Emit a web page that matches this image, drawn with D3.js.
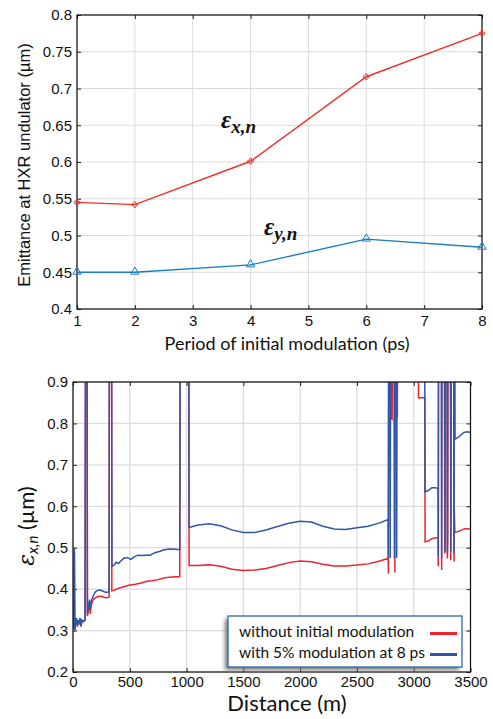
<!DOCTYPE html>
<html>
<head>
<meta charset="utf-8">
<script src="https://cdn.jsdelivr.net/npm/d3@7"></script>
<style>
    body { margin: 0; background: #fff; }
    svg { display: block; }
    .tick text { font-family: "Liberation Sans", Arial, sans-serif; font-size: 15px; fill: #111; }
    .tick line { stroke: #222; }
</style>
</head>
<body>
<div id="chart"></div>
<script>
(function () {
    'use strict';

    // ---- top panel data: emittance vs period of initial modulation
    var periods = [1, 2, 4, 6, 8];
    var emitX = [0.545, 0.542, 0.601, 0.716, 0.775];
    var emitY = [0.450, 0.450, 0.460, 0.495, 0.484];
    var periodTicks = [1, 2, 3, 4, 5, 6, 7, 8];
    var emitTicks = [0.4, 0.45, 0.5, 0.55, 0.6, 0.65, 0.7, 0.75, 0.8];

    // ---- bottom panel data: [distance (m), emittance (um)], 1.0 = off scale
    var noModPts = [
        [0, 0.315], [6, 0.305], [12, 0.49], [16, 0.30], [22, 0.32], [30, 0.33], [38, 0.31], [46, 0.325],
        [54, 0.315], [62, 0.33], [70, 0.31], [80, 0.325], [92, 0.322], [106, 0.325], [110, 1.0], [124, 1.0],
        [127, 0.335], [138, 0.355], [146, 0.36], [152, 0.34], [160, 0.36], [172, 0.372], [190, 0.378],
        [220, 0.382], [250, 0.383], [280, 0.38], [300, 0.379], [318, 0.381], [320, 1.0], [340, 1.0],
        [342, 0.396], [360, 0.397], [400, 0.402], [450, 0.406], [500, 0.41], [550, 0.412], [600, 0.415],
        [650, 0.419], [700, 0.42], [750, 0.423], [800, 0.427], [850, 0.429], [900, 0.43], [940, 0.43],
        [944, 1.0], [1020, 1.0], [1022, 0.457], [1100, 0.457], [1200, 0.459], [1300, 0.455], [1400, 0.448],
        [1500, 0.445], [1600, 0.446], [1700, 0.45], [1800, 0.457], [1900, 0.464], [2000, 0.468],
        [2100, 0.466], [2200, 0.46], [2300, 0.456], [2400, 0.456], [2500, 0.458], [2600, 0.461],
        [2700, 0.468], [2775, 0.474], [2777, 0.437], [2779, 1.0], [2797, 1.0], [2799, 0.812], [2810, 0.81],
        [2812, 1.0], [2832, 1.0], [2834, 0.44], [2838, 1.0], [2854, 1.0], [2856, 0.815], [2858, 1.0],
        [3040, 1.0], [3042, 0.862], [3098, 0.862], [3100, 0.514], [3130, 0.516], [3160, 0.522],
        [3190, 0.524], [3214, 0.524], [3216, 0.455], [3218, 1.0], [3244, 1.0], [3246, 0.446], [3248, 1.0],
        [3270, 1.0], [3273, 0.486], [3276, 0.5], [3278, 1.0], [3294, 1.0], [3296, 0.474], [3300, 0.52],
        [3302, 1.0], [3324, 1.0], [3326, 0.47], [3330, 1.0], [3352, 1.0], [3355, 0.466], [3358, 0.59],
        [3362, 0.537], [3400, 0.54], [3450, 0.546], [3500, 0.545]
    ];
    var modPts = [
        [0, 0.315], [6, 0.305], [12, 0.50], [16, 0.30], [22, 0.32], [30, 0.33], [38, 0.31], [46, 0.325],
        [54, 0.315], [62, 0.33], [70, 0.31], [80, 0.325], [92, 0.322], [106, 0.325], [110, 1.0], [124, 1.0],
        [127, 0.34], [138, 0.36], [146, 0.375], [152, 0.35], [158, 0.365], [166, 0.375], [178, 0.383],
        [195, 0.393], [215, 0.397], [240, 0.398], [265, 0.395], [290, 0.392], [310, 0.393], [318, 0.396],
        [320, 1.0], [340, 1.0], [343, 0.455], [360, 0.458], [380, 0.465], [400, 0.462], [420, 0.468],
        [450, 0.475], [480, 0.476], [510, 0.472], [540, 0.478], [570, 0.482], [600, 0.481], [640, 0.482],
        [680, 0.482], [720, 0.488], [760, 0.491], [800, 0.495], [850, 0.497], [900, 0.496], [940, 0.495],
        [944, 1.0], [1020, 1.0], [1022, 0.549], [1100, 0.555], [1200, 0.558], [1300, 0.553], [1400, 0.543],
        [1500, 0.537], [1600, 0.537], [1700, 0.543], [1800, 0.551], [1900, 0.559], [2000, 0.564],
        [2100, 0.562], [2200, 0.552], [2300, 0.545], [2400, 0.544], [2500, 0.548], [2600, 0.552],
        [2700, 0.56], [2774, 0.568], [2776, 0.474], [2780, 1.0], [2790, 1.0], [2793, 0.475], [2797, 1.0],
        [2826, 1.0], [2830, 0.474], [2834, 1.0], [2846, 1.0], [2850, 0.476], [2854, 1.0], [3097, 1.0],
        [3099, 0.635], [3130, 0.638], [3160, 0.645], [3190, 0.645], [3214, 0.643], [3217, 0.478],
        [3219, 1.0], [3244, 1.0], [3246, 0.474], [3248, 1.0], [3272, 1.0], [3275, 0.49], [3278, 1.0],
        [3294, 1.0], [3297, 0.486], [3300, 1.0], [3324, 1.0], [3327, 0.49], [3330, 1.0], [3352, 1.0],
        [3355, 0.486], [3358, 1.0], [3362, 1.0], [3364, 0.762], [3400, 0.768], [3440, 0.778],
        [3470, 0.78], [3500, 0.778]
    ];
    var distTicks = [0, 500, 1000, 1500, 2000, 2500, 3000, 3500];
    var epsTicks = [0.2, 0.3, 0.4, 0.5, 0.6, 0.7, 0.8, 0.9];
    var legendLabels = ['without initial modulation', 'with 5% modulation at 8 ps'];

    var width = 493, height = 719;
    var topBox = {left: 77, right: 482, top: 15, bottom: 309};
    var botBox = {left: 73, right: 470.5, top: 382, bottom: 672};
    var gridColor = '#dcdcdc';
    var labelFont = 'Lato, "Open Sans", sans-serif';

    var svg = d3.select('#chart')
        .append('svg')
        .attr('width', width)
        .attr('height', height);

    // ================= top panel =================
    var x1 = d3.scaleLinear().domain([1, 8]).range([topBox.left, topBox.right]);
    var y1 = d3.scaleLinear().domain([0.4, 0.8]).range([topBox.bottom, topBox.top]);

    var top = svg.append('g').attr('class', 'top-panel');

    top.append('g').selectAll('line.gx')
        .data(periodTicks).enter().append('line')
        .attr('x1', function (d) { return x1(d); }).attr('x2', function (d) { return x1(d); })
        .attr('y1', topBox.top).attr('y2', topBox.bottom)
        .attr('stroke', gridColor);
    top.append('g').selectAll('line.gy')
        .data(emitTicks).enter().append('line')
        .attr('y1', function (d) { return y1(d); }).attr('y2', function (d) { return y1(d); })
        .attr('x1', topBox.left).attr('x2', topBox.right)
        .attr('stroke', gridColor);

    var fmt1 = function (d) { return String(+d.toFixed(2)); };
    top.append('g')
        .attr('transform', 'translate(' + topBox.left + ',0)')
        .call(d3.axisLeft(y1).tickValues(emitTicks).tickFormat(fmt1).tickSizeInner(-4).tickSizeOuter(0).tickPadding(5))
        .call(function (g) { g.select('.domain').remove(); });
    top.append('g')
        .attr('transform', 'translate(' + topBox.right + ',0)')
        .call(d3.axisRight(y1).tickValues(emitTicks).tickFormat('').tickSizeInner(-4).tickSizeOuter(0))
        .call(function (g) { g.select('.domain').remove(); });
    top.append('g')
        .attr('transform', 'translate(0,' + topBox.bottom + ')')
        .call(d3.axisBottom(x1).tickValues(periodTicks).tickFormat(d3.format('d')).tickSizeInner(-4).tickSizeOuter(0).tickPadding(6))
        .call(function (g) { g.select('.domain').remove(); });
    top.append('g')
        .attr('transform', 'translate(0,' + topBox.top + ')')
        .call(d3.axisTop(x1).tickValues(periodTicks).tickFormat('').tickSizeInner(-4).tickSizeOuter(0))
        .call(function (g) { g.select('.domain').remove(); });

    top.append('rect')
        .attr('x', topBox.left).attr('y', topBox.top)
        .attr('width', topBox.right - topBox.left).attr('height', topBox.bottom - topBox.top)
        .attr('fill', 'none').attr('stroke', '#111').attr('stroke-width', 1.2);

    var line1 = d3.line()
        .x(function (d) { return x1(d[0]); })
        .y(function (d) { return y1(d[1]); });

    var redTop = '#f0302c', blueTop = '#1b7ec0';
    var xPts = periods.map(function (p, i) { return [p, emitX[i]]; });
    var yPts = periods.map(function (p, i) { return [p, emitY[i]]; });

    top.append('path').datum(xPts)
        .attr('d', line1).attr('fill', 'none')
        .attr('stroke', redTop).attr('stroke-width', 1.4);
    top.append('path').datum(yPts)
        .attr('d', line1).attr('fill', 'none')
        .attr('stroke', blueTop).attr('stroke-width', 1.4);

    top.append('g').selectAll('path')
        .data(xPts).enter().append('path')
        .attr('d', d3.symbol().type(d3.symbolCross).size(18))
        .attr('transform', function (d) { return 'translate(' + x1(d[0]) + ',' + y1(d[1]) + ')'; })
        .attr('fill', 'none').attr('stroke', redTop).attr('stroke-width', 0.8);
    top.append('g').selectAll('path')
        .data(yPts).enter().append('path')
        .attr('d', d3.symbol().type(d3.symbolTriangle).size(30))
        .attr('transform', function (d) { return 'translate(' + x1(d[0]) + ',' + (y1(d[1]) - 0.5) + ')'; })
        .attr('fill', 'none').attr('stroke', blueTop).attr('stroke-width', 1);

    // annotations
    function epsLabel(g, x, y, sub) {
        var t = g.append('text')
            .attr('x', x).attr('y', y)
            .attr('font-family', '"Liberation Serif", "DejaVu Serif", serif')
            .attr('font-style', 'italic').attr('font-weight', 'bold')
            .attr('fill', '#111');
        t.append('tspan').attr('font-size', 25).text('\u03b5');
        t.append('tspan').attr('font-size', 19).attr('dy', 5).text(sub);
    }
    epsLabel(top, 221, 128, 'x,n');
    epsLabel(top, 264, 235, 'y,n');

    top.append('text')
        .attr('transform', 'translate(30,' + ((topBox.top + topBox.bottom) / 2 + 3) + ') rotate(-90)')
        .attr('text-anchor', 'middle')
        .attr('font-family', '"Liberation Sans", Arial, sans-serif')
        .attr('font-size', 16.5)
        .attr('fill', '#111')
        .text('Emittance at HXR undulator (\u00b5m)');

    top.append('text')
        .attr('x', 287).attr('y', 350)
        .attr('text-anchor', 'middle')
        .attr('font-family', labelFont)
        .attr('font-size', 18)
        .attr('fill', '#111')
        .text('Period of initial modulation (ps)');

    // ================= bottom panel =================
    var x2 = d3.scaleLinear().domain([0, 3500]).range([botBox.left, botBox.right]);
    var y2 = d3.scaleLinear().domain([0.2, 0.9]).range([botBox.bottom, botBox.top]);

    var bot = svg.append('g').attr('class', 'bottom-panel');

    bot.append('defs').append('clipPath').attr('id', 'clip-bot')
        .append('rect')
        .attr('x', botBox.left).attr('y', botBox.top)
        .attr('width', botBox.right - botBox.left).attr('height', botBox.bottom - botBox.top);

    bot.append('g').selectAll('line')
        .data(distTicks).enter().append('line')
        .attr('x1', function (d) { return x2(d); }).attr('x2', function (d) { return x2(d); })
        .attr('y1', botBox.top).attr('y2', botBox.bottom)
        .attr('stroke', gridColor).attr('stroke-width', 1.3);
    bot.append('g').selectAll('line')
        .data(epsTicks).enter().append('line')
        .attr('y1', function (d) { return y2(d); }).attr('y2', function (d) { return y2(d); })
        .attr('x1', botBox.left).attr('x2', botBox.right)
        .attr('stroke', gridColor).attr('stroke-width', 1.3);

    var fmt2 = function (d) { return d.toFixed(1); };
    bot.append('g')
        .attr('transform', 'translate(' + botBox.left + ',0)')
        .call(d3.axisLeft(y2).tickValues(epsTicks).tickFormat(fmt2).tickSizeInner(-4).tickSizeOuter(0).tickPadding(5))
        .call(function (g) { g.select('.domain').remove(); });
    bot.append('g')
        .attr('transform', 'translate(' + botBox.right + ',0)')
        .call(d3.axisRight(y2).tickValues(epsTicks).tickFormat('').tickSizeInner(-4).tickSizeOuter(0))
        .call(function (g) { g.select('.domain').remove(); });
    bot.append('g')
        .attr('transform', 'translate(0,' + botBox.bottom + ')')
        .call(d3.axisBottom(x2).tickValues(distTicks).tickFormat(d3.format('d')).tickSizeInner(-4).tickSizeOuter(0).tickPadding(4))
        .call(function (g) { g.select('.domain').remove(); });
    bot.append('g')
        .attr('transform', 'translate(0,' + botBox.top + ')')
        .call(d3.axisTop(x2).tickValues(distTicks).tickFormat('').tickSizeInner(-4).tickSizeOuter(0))
        .call(function (g) { g.select('.domain').remove(); });

    var line2 = d3.line()
        .x(function (d) { return x2(d[0]); })
        .y(function (d) { return y2(d[1]); });

    var redBot = '#f0222b', blueBot = '#3156a8';
    var curves = bot.append('g').attr('clip-path', 'url(#clip-bot)');
    curves.append('path').datum(noModPts)
        .attr('d', line2).attr('fill', 'none')
        .attr('stroke', redBot).attr('stroke-width', 1.5);
    curves.append('path').datum(modPts)
        .attr('d', line2).attr('fill', 'none')
        .attr('stroke', blueBot).attr('stroke-width', 1.5);

    bot.append('rect')
        .attr('x', botBox.left).attr('y', botBox.top)
        .attr('width', botBox.right - botBox.left).attr('height', botBox.bottom - botBox.top)
        .attr('fill', 'none').attr('stroke', '#111').attr('stroke-width', 1.2);

    // legend
    var filt = bot.select('defs').append('filter').attr('id', 'shadow')
        .attr('x', '-20%').attr('y', '-20%').attr('width', '140%').attr('height', '160%');
    filt.append('feGaussianBlur').attr('stdDeviation', 2);

    var leg = {x: 228, y: 616, w: 234, h: 51};
    bot.append('rect')
        .attr('x', leg.x - 3).attr('y', leg.y + 3)
        .attr('width', leg.w).attr('height', leg.h)
        .attr('fill', '#777').attr('filter', 'url(#shadow)');
    bot.append('rect')
        .attr('x', leg.x).attr('y', leg.y)
        .attr('width', leg.w).attr('height', leg.h)
        .attr('fill', '#fff').attr('stroke', '#2a6ba8').attr('stroke-width', 1.3);

    var legColors = [redBot, blueBot];
    var legRows = bot.append('g').selectAll('g')
        .data(legendLabels).enter().append('g')
        .attr('transform', function (d, i) { return 'translate(0,' + (637 + i * 21) + ')'; });
    legRows.append('text')
        .attr('x', 239)
        .attr('font-family', labelFont)
        .attr('font-size', 15.5)
        .attr('fill', '#111')
        .text(function (d) { return d; });
    legRows.append('line')
        .attr('x1', 430).attr('x2', 457)
        .attr('y1', -3.5).attr('y2', -3.5)
        .attr('stroke', function (d, i) { return legColors[i]; })
        .attr('stroke-width', 3);

    // axis labels
    bot.append('text')
        .attr('x', 287).attr('y', 711)
        .attr('text-anchor', 'middle')
        .attr('font-family', labelFont)
        .attr('font-size', 22)
        .attr('fill', '#111')
        .text('Distance (m)');

    var yl = bot.append('text')
        .attr('transform', 'translate(34,526) rotate(-90)')
        .attr('text-anchor', 'middle')
        .attr('font-family', labelFont)
        .attr('font-size', 22)
        .attr('fill', '#111');
    yl.append('tspan').attr('font-style', 'italic').attr('font-family', '"DejaVu Serif", serif').text('\u03b5');
    yl.append('tspan').attr('font-style', 'italic').attr('font-size', 15).attr('dy', 4).text('x,n');
    yl.append('tspan').attr('dy', -4).text(' (\u00b5m)');
})();
</script>
</body>
</html>
